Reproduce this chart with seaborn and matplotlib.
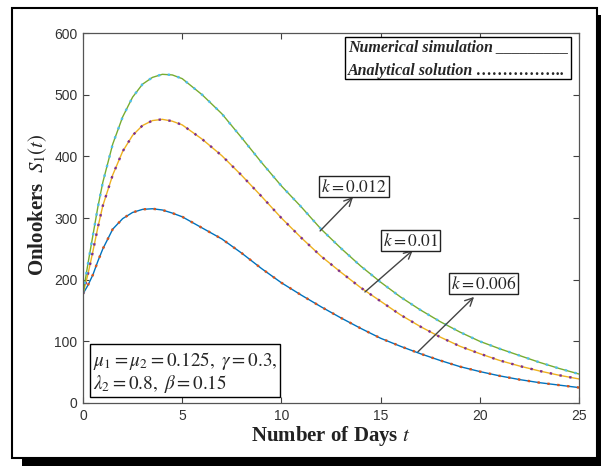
import numpy as np
import pandas as pd
import matplotlib
matplotlib.use("Agg")
import matplotlib.pyplot as plt
from matplotlib.patches import Rectangle
import seaborn as sns

# ---------------- data ----------------
t = [0, 0.25, 0.5, 0.75, 1, 1.5, 2, 2.5, 3, 3.5, 4, 4.5, 5, 6, 7, 8, 9, 10,
     11, 12, 13, 14, 15, 16, 17, 18, 19, 20, 21, 22, 23, 24, 25]

s_k012 = [177, 226, 272, 318, 358, 420, 464, 496, 517, 528, 533, 532, 526, 500,
          469, 430, 390, 352, 318, 282, 251, 222, 196, 172, 151, 132, 115, 100,
          88, 77, 66, 56, 47]
s_k010 = [177, 209, 246, 285, 320, 370, 408, 434, 450, 458, 460, 457, 451, 428,
          401, 369, 335, 300, 268, 238, 212, 187, 165, 143, 124, 107, 92, 80,
          69, 60, 52, 45, 39]
s_k006 = [177, 191, 208, 230, 250, 282, 299, 309, 314, 315, 313, 308, 302, 284,
          266, 243, 218, 195, 175, 156, 138, 121, 105, 92, 80, 69, 59, 51,
          44, 38, 33, 29, 25]

k_labels = ["$k=0.006$", "$k=0.01$", "$k=0.012$"]
x_ticks = [0, 5, 10, 15, 20, 25]
y_ticks = [0, 100, 200, 300, 400, 500, 600]

# ---------------- style ----------------
sns.set_theme(style="ticks")
plt.rcParams["font.family"] = ["Liberation Sans", "DejaVu Sans"]
plt.rcParams["mathtext.fontset"] = "stix"

num_colors = ["#0072BD", "#EDB120", "#77AC30"]
ana_colors = ["#D95319", "#7E2F8E", "#4DBEEE"]
series = [s_k006, s_k010, s_k012]

fig = plt.figure(figsize=(6.01, 4.66), dpi=100)
fig.patch.set_facecolor("white")
ax = fig.add_axes([83 / 601, 1 - 403 / 466, (579 - 83) / 601, (403 - 33) / 466])

for vals, nc, ac in zip(series, num_colors, ana_colors):
    df = pd.DataFrame({"t": t, "S": vals})
    sns.lineplot(data=df, x="t", y="S", color=nc, lw=1.0, ax=ax)
    sns.lineplot(data=df, x="t", y="S", color=ac, lw=1.7,
                 linestyle=(0, (1.0, 3.2)), ax=ax)

ax.set_xlim(0, 25)
ax.set_ylim(0, 600)
ax.set_xticks(x_ticks)
ax.set_yticks(y_ticks)
ax.tick_params(direction="in", length=4, width=0.8, colors="#404040",
               labelcolor="#333333", labelsize=10, top=True, right=True,
               pad=4)
for sp in ax.spines.values():
    sp.set_visible(True)
    sp.set_color("#555555")
    sp.set_linewidth(0.9)

serif = ["Liberation Serif", "DejaVu Serif"]
ax.set_xlabel("Number of Days $t$", family=serif, fontweight="bold",
              fontsize=15, labelpad=1, color="#222222")
ax.set_ylabel("Onlookers  $S_1(t)$", family=serif, fontweight="bold",
              fontsize=15, color="#222222")
ax.yaxis.set_label_coords(-0.068, 0.535)

# legend-like box
ax.add_patch(Rectangle((0.528, 0.876), 0.456, 0.113, transform=ax.transAxes,
                       facecolor="white", edgecolor="black", lw=1.0, zorder=5))
ax.text(0.534, 0.962, "Numerical simulation _________", transform=ax.transAxes,
        family=serif, fontweight="bold", style="italic", fontsize=11.5,
        va="center", ha="left", zorder=6)
ax.text(0.534, 0.898, "Analytical solution \u2026\u2026\u2026\u2026\u2026..",
        transform=ax.transAxes, family=serif, fontweight="bold",
        style="italic", fontsize=11.5, va="center", ha="left", zorder=6)

# parameter box
ax.add_patch(Rectangle((0.014, 0.016), 0.383, 0.143, transform=ax.transAxes,
                       facecolor="white", edgecolor="black", lw=1.0, zorder=5))
ax.text(0.02, 0.113, r"$\mu_1=\mu_2=0.125,\ \gamma=0.3,$",
        transform=ax.transAxes, fontsize=13.8, va="center", ha="left", zorder=6)
ax.text(0.02, 0.051, r"$\lambda_2=0.8,\ \beta=0.15$",
        transform=ax.transAxes, fontsize=13.8, va="center", ha="left", zorder=6)

# k annotations
label_pos = [(20.19, 194), (16.51, 263), (13.66, 351)]
arrow_tail = [(16.88, 83), (14.21, 180), (11.95, 279)]
arrow_head = [(19.71, 172), (16.63, 248), (13.61, 334)]
for lab, lp, tl, hd in zip(k_labels, label_pos, arrow_tail, arrow_head):
    ax.annotate("", xy=hd, xytext=tl,
                arrowprops=dict(arrowstyle="->", color="#444444", lw=1.0,
                                shrinkA=0, shrinkB=0, mutation_scale=14),
                zorder=6)
    ax.text(lp[0], lp[1], lab, fontsize=12.5, ha="center", va="center",
            bbox=dict(boxstyle="square,pad=0.12", facecolor="white",
                      edgecolor="#222222", lw=1.0), zorder=7)

# outer frame with drop shadow
fig.add_artist(Rectangle((22 / 601, 0), (601 - 22) / 601, 8 / 466,
                         transform=fig.transFigure, facecolor="black",
                         edgecolor="none", zorder=0))
fig.add_artist(Rectangle((597 / 601, 0), 4 / 601, (466 - 15) / 466,
                         transform=fig.transFigure, facecolor="black",
                         edgecolor="none", zorder=0))
fig.add_artist(Rectangle((12 / 601, 8 / 466), (597 - 12) / 601,
                         (459 - 8 - 1) / 466, transform=fig.transFigure,
                         facecolor="none", edgecolor="black", lw=1.5,
                         zorder=1))

fig.savefig("out.png", dpi=100)
